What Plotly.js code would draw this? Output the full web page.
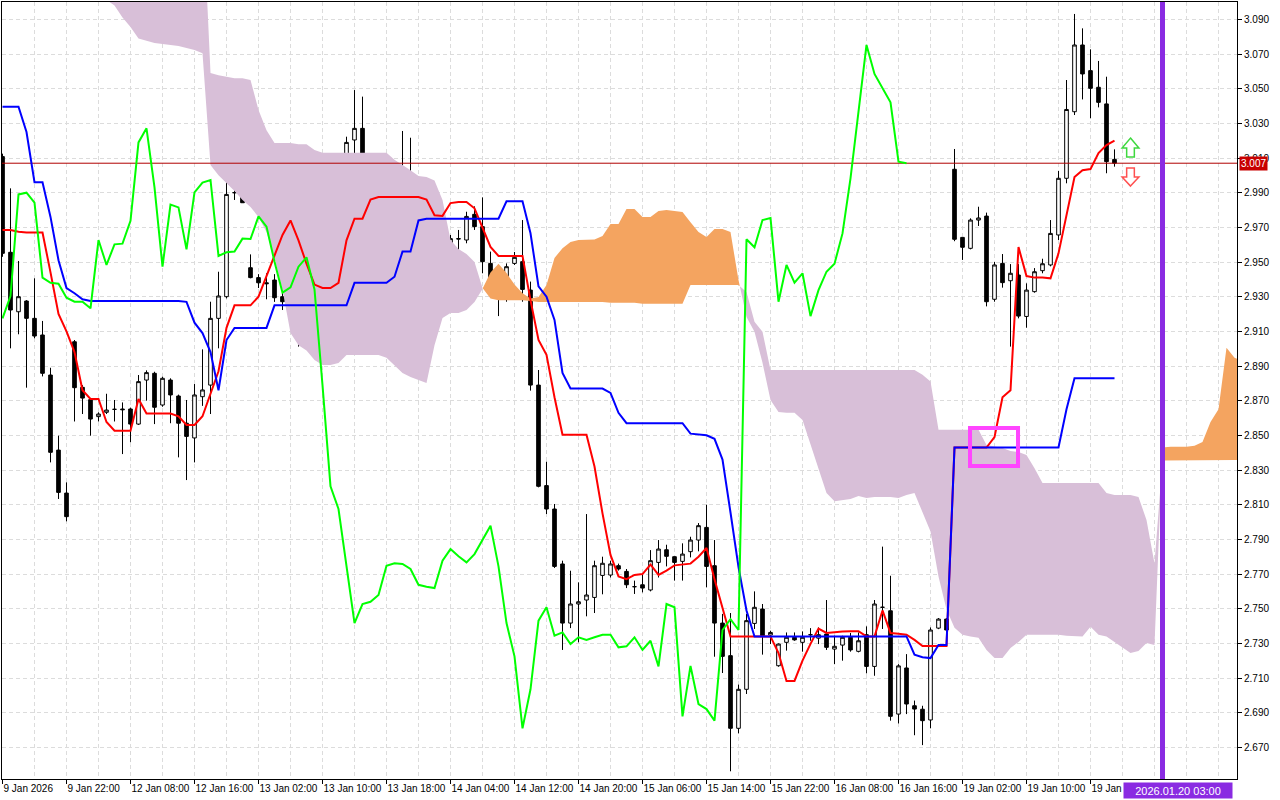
<!DOCTYPE html>
<html><head><meta charset="utf-8">
<script src="https://cdn.plot.ly/plotly-3.0.1.min.js"></script>
<style>html,body{margin:0;padding:0;background:#fff}#chart{width:1280px;height:800px}</style>
</head><body><div id="chart"></div>
<script>
// ---- Candles (hourly bars, index 0..139) ----
const openP = [3.0108,2.9556,2.9213,2.9275,2.9175,2.9079,2.8848,2.8415,2.8167,2.9040,
 2.8777,2.8706,2.8608,2.8633,2.8650,2.8652,2.8652,2.8565,2.8819,2.8858,
 2.8675,2.8819,2.8727,2.8570,2.8485,2.8723,2.8790,2.9175,2.9300,2.9900,
 2.9915,2.9467,2.9410,2.9380,2.9396,2.9300,2.9271,2.9275,2.9233,2.9604,
 2.9473,2.9602,2.9604,2.9738,3.0204,3.0271,2.9944,2.9463,2.9831,2.9831,
 2.9579,2.9913,2.9946,2.9492,2.9517,2.9560,2.9554,2.9635,2.9627,2.9775,
 2.9704,2.9492,2.9323,2.9342,2.9492,2.9502,2.9338,2.8790,2.8210,2.8075,
 2.7758,2.7417,2.7527,2.7550,2.7565,2.7692,2.7694,2.7748,2.7715,2.7627,
 2.7638,2.7608,2.7767,2.7840,2.7800,2.7773,2.7829,2.7896,2.7969,2.7748,
 2.7417,2.7229,2.6810,2.7035,2.7415,2.7498,2.7348,2.7171,2.7306,2.7335,
 2.7306,2.7350,2.7330,2.7354,2.7267,2.7290,2.7335,2.7254,2.7350,2.7167,
 2.7508,2.7488,2.6892,2.7158,2.6940,2.6920,2.6858,2.7388,2.7440,3.0035,
 2.9642,2.9579,2.9742,2.9765,2.9285,2.9492,2.9392,2.9425,2.9186,2.9329,
 2.9450,2.9483,2.9656,2.9983,3.0367,3.0752,3.0604,3.0508,3.0412,3.0092];
const highP = [3.0125,2.9925,2.9506,2.9280,2.9406,2.9160,2.8890,2.8498,2.8229,2.9050,
 2.8790,2.8710,2.8633,2.8740,2.8704,2.8690,2.8660,2.8848,2.8875,2.8867,
 2.8838,2.8829,2.8735,2.8704,2.8796,2.8996,2.9271,2.9444,3.0002,3.0256,
 2.9996,2.9544,2.9430,2.9435,2.9430,2.9323,2.9323,2.9323,2.9665,2.9665,
 2.9635,2.9656,2.9765,3.0223,3.0492,3.0454,2.9944,2.9877,2.9996,2.9973,
 3.0256,3.0217,2.9992,2.9685,2.9635,2.9585,2.9656,2.9685,2.9790,2.9821,
 2.9873,2.9560,2.9387,2.9492,2.9558,2.9742,2.9387,2.8877,2.8348,2.8104,
 2.7777,2.7719,2.7652,2.8046,2.7777,2.7800,2.7777,2.7760,2.7729,2.7662,
 2.7700,2.7838,2.7896,2.7869,2.7802,2.7877,2.7915,2.7994,2.8100,2.7896,
 2.7470,2.7475,2.7062,2.7470,2.7600,2.7527,2.7373,2.7300,2.7363,2.7363,
 2.7369,2.7388,2.7392,2.7550,2.7344,2.7344,2.7360,2.7363,2.7398,2.7550,
 2.7858,2.7690,2.7180,2.7238,2.6970,2.6940,2.7392,2.7446,2.7446,3.0152,
 2.9642,2.9752,2.9819,2.9785,2.9500,2.9546,2.9488,2.9488,2.9377,2.9465,
 2.9519,2.9742,3.0025,3.0550,3.0931,3.0848,3.0727,3.0660,3.0569,3.0150];
const lowP = [2.9530,2.9002,2.9083,2.8775,2.9060,2.8840,2.8344,2.8133,2.8004,2.8580,
 2.8623,2.8498,2.8580,2.8623,2.8580,2.8392,2.8460,2.8560,2.8700,2.8565,
 2.8665,2.8570,2.8373,2.8242,2.8344,2.8670,2.8623,2.9002,2.9290,2.9858,
 2.9842,2.9406,2.9350,2.9285,2.9270,2.9223,2.9223,2.9012,2.9220,2.9338,
 2.9412,2.9540,2.9560,2.9727,3.0108,2.9819,2.9271,2.9280,2.9444,2.9525,
 2.9483,2.9890,2.9930,2.9419,2.9483,2.9540,2.9483,2.9560,2.9608,2.9685,
 2.9435,2.9300,2.9188,2.9271,2.9483,2.9271,2.8758,2.8200,2.8046,2.7735,
 2.7262,2.7388,2.7306,2.7456,2.7475,2.7583,2.7680,2.7720,2.7619,2.7585,
 2.7594,2.7600,2.7680,2.7744,2.7662,2.7662,2.7796,2.7831,2.7623,2.7223,
 2.7129,2.6562,2.6781,2.7008,2.7383,2.7235,2.7296,2.7165,2.7258,2.7315,
 2.7252,2.7315,2.7296,2.7262,2.7180,2.7200,2.7252,2.7248,2.7127,2.7113,
 2.7383,2.6854,2.6838,2.6892,2.6770,2.6713,2.6810,2.7382,2.7370,2.9620,
 2.9512,2.9573,2.9708,2.9244,2.9271,2.9352,2.9012,2.9175,2.9121,2.9323,
 2.9435,2.9475,2.9627,2.9954,3.0348,3.0438,3.0329,3.0392,3.0012,3.0050];
const closeP = [2.9550,2.9223,2.9300,2.9175,2.9073,2.8858,2.8402,2.8171,2.8031,2.8775,
 2.8715,2.8594,2.8623,2.8646,2.8650,2.8648,2.8565,2.8810,2.8862,2.8662,
 2.8829,2.8733,2.8570,2.8494,2.8733,2.8762,2.9175,2.9304,2.9890,2.9900,
 2.9842,2.9410,2.9380,2.9375,2.9294,2.9271,2.9271,2.9233,2.9627,2.9483,
 2.9602,2.9606,2.9738,3.0190,3.0271,2.9931,2.9473,2.9831,2.9815,2.9573,
 2.9902,2.9958,2.9973,2.9535,2.9556,2.9560,2.9635,2.9633,2.9763,2.9704,
 2.9502,2.9323,2.9354,2.9473,2.9527,2.9342,2.8790,2.8206,2.8075,2.7744,
 2.7417,2.7527,2.7540,2.7579,2.7748,2.7762,2.7758,2.7729,2.7638,2.7627,
 2.7619,2.7777,2.7844,2.7802,2.7767,2.7815,2.7896,2.7979,2.7744,2.7417,
 2.7225,2.6810,2.7035,2.7431,2.7508,2.7344,2.7363,2.7296,2.7335,2.7320,
 2.7335,2.7350,2.7350,2.7277,2.7283,2.7335,2.7262,2.7315,2.7167,2.7527,
 2.7508,2.6879,2.7170,2.6950,2.6921,2.6854,2.7377,2.7440,2.7377,2.9631,
 2.9585,2.9742,2.9754,2.9271,2.9483,2.9381,2.9435,2.9188,2.9338,2.9444,
 2.9490,2.9665,2.9983,3.0380,3.0752,3.0585,3.0502,3.0421,3.0079,3.0070];

// ---- Ichimoku lines ----
const tenkan = [2.9685,2.9685,2.9675,2.9670,2.9670,2.9670,2.9440,2.9200,2.9100,2.8980,
 2.8760,2.8710,2.8710,2.8577,2.8527,2.8527,2.8527,2.8710,2.8626,2.8626,
 2.8626,2.8626,2.8610,2.8560,2.8560,2.8610,2.8740,2.8870,2.9120,2.9250,
 2.9250,2.9250,2.9300,2.9415,2.9530,2.9656,2.9740,2.9625,2.9490,2.9370,
 2.9350,2.9350,2.9380,2.9625,2.9750,2.9750,2.9860,2.9875,2.9875,2.9875,
 2.9875,2.9875,2.9875,2.9860,2.9770,2.9766,2.9840,2.9846,2.9846,2.9810,
 2.9696,2.9587,2.9535,2.9535,2.9535,2.9535,2.9280,2.9050,2.8965,2.8720,
 2.8503,2.8503,2.8503,2.8503,2.8320,2.8050,2.7810,2.7686,2.7670,2.7695,
 2.7700,2.7755,2.7695,2.7720,2.7750,2.7755,2.7760,2.7800,2.7850,2.7670,
 2.7510,2.7340,2.7340,2.7340,2.7340,2.7340,2.7340,2.7244,2.7083,2.7083,
 2.7200,2.7297,2.7385,2.7360,2.7365,2.7368,2.7370,2.7370,2.7340,2.7340,
 2.7490,2.7360,2.7355,2.7350,2.7320,2.7285,2.7285,2.7285,2.7285,2.8430,
 2.8430,2.8430,2.8430,2.8430,2.8490,2.8720,2.8760,2.9586,2.9419,2.9410,
 2.9410,2.9406,2.9550,2.9760,2.9990,3.0030,3.0036,3.0128,3.0175,3.0200];
const kijun = [3.0396,3.0396,3.0396,3.0250,2.9960,2.9960,2.9760,2.9510,2.9350,2.9320,
 2.9285,2.9275,2.9275,2.9275,2.9275,2.9275,2.9275,2.9275,2.9275,2.9275,
 2.9275,2.9275,2.9275,2.9270,2.9150,2.9090,2.8980,2.8760,2.9050,2.9120,
 2.9120,2.9120,2.9120,2.9120,2.9250,2.9250,2.9250,2.9250,2.9250,2.9250,
 2.9250,2.9250,2.9250,2.9250,2.9380,2.9380,2.9380,2.9380,2.9380,2.9415,
 2.9560,2.9560,2.9740,2.9750,2.9750,2.9750,2.9750,2.9750,2.9750,2.9750,
 2.9750,2.9750,2.9750,2.9850,2.9850,2.9850,2.9666,2.9360,2.9300,2.9166,
 2.8860,2.8770,2.8770,2.8770,2.8770,2.8770,2.8745,2.8630,2.8570,2.8570,
 2.8570,2.8570,2.8570,2.8570,2.8570,2.8570,2.8510,2.8505,2.8500,2.8480,
 2.8360,2.8055,2.7740,2.7490,2.7340,2.7340,2.7340,2.7340,2.7340,2.7340,
 2.7340,2.7340,2.7340,2.7340,2.7340,2.7340,2.7340,2.7340,2.7340,2.7340,
 2.7340,2.7340,2.7340,2.7340,2.7235,2.7220,2.7215,2.7290,2.7290,2.8430,
 2.8430,2.8430,2.8430,2.8430,2.8430,2.8430,2.8430,2.8430,2.8430,2.8430,
 2.8430,2.8430,2.8430,2.8650,2.8830,2.8830,2.8830,2.8830,2.8830,2.8830];
const chikou = [2.9175,2.9304,2.9890,2.9900,2.9842,2.9410,2.9380,2.9375,2.9294,2.9271,
 2.9271,2.9233,2.9627,2.9483,2.9602,2.9606,2.9738,3.0190,3.0271,2.9931,
 2.9473,2.9831,2.9815,2.9573,2.9902,2.9958,2.9973,2.9535,2.9556,2.9560,
 2.9635,2.9633,2.9763,2.9704,2.9502,2.9323,2.9354,2.9473,2.9527,2.9342,
 2.8790,2.8206,2.8075,2.7744,2.7417,2.7527,2.7540,2.7579,2.7748,2.7762,
 2.7758,2.7729,2.7638,2.7627,2.7619,2.7777,2.7844,2.7802,2.7767,2.7815,
 2.7896,2.7979,2.7744,2.7417,2.7225,2.6810,2.7035,2.7431,2.7508,2.7344,
 2.7363,2.7296,2.7335,2.7320,2.7335,2.7350,2.7350,2.7277,2.7283,2.7335,
 2.7262,2.7315,2.7167,2.7527,2.7508,2.6879,2.7170,2.6950,2.6921,2.6854,
 2.7377,2.7440,2.7377,2.9631,2.9585,2.9742,2.9754,2.9271,2.9483,2.9381,
 2.9435,2.9188,2.9338,2.9444,2.9490,2.9665,2.9983,3.0380,3.0752,3.0585,
 3.0502,3.0421,3.0079,3.0070];
// Senkou spans (already shifted forward; index 0..155)
const spanA = [3.125,3.124,3.123,3.122,3.120,3.118,3.116,3.114,3.112,3.110,
 3.108,3.106,3.104,3.1012,3.0980,3.0910,3.0856,3.0790,3.0775,3.0763,
 3.0757,3.0752,3.0746,3.0734,3.0723,3.0705,3.0060,3.0000,2.9956,2.9910,
 2.9858,2.9817,2.9760,2.9673,2.9523,2.9340,2.9090,2.9020,2.8990,2.8935,
 2.8906,2.8906,2.8918,2.8964,2.8964,2.8964,2.8964,2.8964,2.8947,2.8906,
 2.8860,2.8837,2.8820,2.8802,2.9020,2.9177,2.9206,2.9206,2.9223,2.9270,
 2.9345,2.9440,2.9490,2.9436,2.9370,2.9320,2.9290,2.9298,2.9367,2.9523,
 2.9580,2.9615,2.9627,2.9630,2.9630,2.9650,2.9720,2.9720,2.9806,2.9806,
 2.9760,2.9760,2.9794,2.9800,2.9794,2.9788,2.9730,2.9673,2.9644,2.9690,
 2.9690,2.9673,2.9396,2.9183,2.9098,2.8919,2.8704,2.8635,2.8630,2.8630,
 2.8588,2.8444,2.8300,2.8167,2.8120,2.8127,2.8133,2.8150,2.8138,2.8144,
 2.8144,2.8144,2.8138,2.8156,2.8167,2.8053,2.7946,2.7686,2.7496,2.7390,
 2.7350,2.7340,2.7333,2.7262,2.7215,2.7215,2.7273,2.7308,2.7350,2.7350,
 2.7350,2.7350,2.7350,2.7344,2.7340,2.7340,2.7396,2.7350,2.7340,2.7308,
 2.7273,2.7244,2.7256,2.7302,2.7290,2.8430,2.8434,2.8434,2.8434,2.8440,
 2.8462,2.8577,2.8650,2.9005,2.8948,2.8930];
const spanB = [3.160,3.160,3.160,3.160,3.160,3.160,3.160,3.160,3.160,3.160,
 3.160,3.160,3.160,3.160,3.160,3.160,3.160,3.160,3.160,3.160,
 3.160,3.160,3.160,3.160,3.160,3.160,3.0590,3.0578,3.0567,3.0560,
 3.0560,3.0550,3.0377,3.0260,3.0187,3.0187,3.0187,3.0180,3.0180,3.0146,
 3.0130,3.0130,3.0130,3.0130,3.0130,3.0130,3.0130,3.0130,3.0130,3.0090,
 3.0060,3.0030,2.9996,2.9990,2.9970,2.9858,2.9627,2.9575,2.9546,2.9500,
 2.9350,2.9290,2.9280,2.9280,2.9280,2.9280,2.9275,2.9270,2.9270,2.9270,
 2.9270,2.9270,2.9270,2.9270,2.9270,2.9270,2.9265,2.9265,2.9265,2.9265,
 2.9259,2.9259,2.9259,2.9259,2.9259,2.9259,2.9367,2.9367,2.9367,2.9367,
 2.9367,2.9367,2.9367,2.9327,2.9155,2.9098,2.8877,2.8877,2.8877,2.8877,
 2.8877,2.8877,2.8877,2.8877,2.8877,2.8877,2.8877,2.8877,2.8877,2.8877,
 2.8877,2.8877,2.8877,2.8877,2.8877,2.8850,2.8810,2.8533,2.8533,2.8533,
 2.8533,2.8533,2.8533,2.8445,2.8435,2.8427,2.8410,2.8404,2.8387,2.8310,
 2.8225,2.8225,2.8225,2.8225,2.8225,2.8225,2.8225,2.8225,2.8167,2.8156,
 2.8156,2.8156,2.8144,2.8012,2.7760,2.8355,2.8358,2.8358,2.8358,2.8358,
 2.8358,2.8358,2.8358,2.8358,2.8358,2.8358];

// ---- Axis labels ----
const tickBars = [0,8,16,24,32,40,48,56,64,72,80,88,96,104,112,120,128,136];
const tickLabels = ['9 Jan 2026','9 Jan 22:00','12 Jan 08:00','12 Jan 16:00','13 Jan 02:00','13 Jan 10:00',
 '13 Jan 18:00','14 Jan 04:00','14 Jan 12:00','14 Jan 20:00','15 Jan 06:00','15 Jan 14:00',
 '15 Jan 22:00','16 Jan 08:00','16 Jan 16:00','19 Jan 02:00','19 Jan 10:00','19 Jan 18:00'];
const markerBar = 145;
const markerLabel = '2026.01.20 03:00';
const crossBox = {x0: 120.94, x1: 126.94, y0: 2.8323, y1: 2.8542};
// signal arrows (drawn beside the last bar)
const signalBar = 141;
const upArrow = {top: 3.0215, neck: 3.0158, bottom: 3.0106};
const downArrow = {top: 3.0042, neck: 2.9990, tip: 2.9938};
const headHalf = 1.05, shaftHalf = 0.48;

// ---- styling ----
const THISTLE = '#D8BFD8', SANDY = '#F4A460', GRID = '#dcdcdc';
const bars = closeP.map((_, i) => i);
const futureBars = spanA.map((_, i) => i);
const lastClose = closeP[closeP.length - 1];

function cloudTraces(xs, A, B) {
  const out = [];
  let sx = [], sa = [], sb = [], sign = null;
  const flush = () => {
    if (sx.length > 1) {
      out.push({x: sx.concat(sx.slice().reverse()), y: sa.concat(sb.slice().reverse()),
        type: 'scatter', mode: 'lines', fill: 'toself', fillcolor: sign > 0 ? SANDY : THISTLE,
        line: {width: 0, color: 'rgba(0,0,0,0)'}, hoverinfo: 'skip', showlegend: false});
    }
  };
  for (let i = 0; i < A.length; i++) {
    const d = A[i] - B[i];
    const s = d >= 0 ? 1 : -1;
    if (sign !== null && s !== sign) {
      const dp = A[i-1] - B[i-1];
      const t = dp / (dp - d);
      const xc = xs[i-1] + t * (xs[i] - xs[i-1]);
      const yc = A[i-1] + t * (A[i] - A[i-1]);
      sx.push(xc); sa.push(yc); sb.push(yc);
      flush();
      sx = [xc]; sa = [yc]; sb = [yc];
    }
    sign = s;
    sx.push(xs[i]); sa.push(A[i]); sb.push(B[i]);
  }
  flush();
  return out;
}

const traces = cloudTraces(futureBars, spanA, spanB);
traces.push({x: [-1, 156], y: [lastClose, lastClose], type: 'scatter', mode: 'lines',
  line: {color: '#b00000', width: 1}, hoverinfo: 'skip', showlegend: false});
traces.push({type: 'candlestick', x: bars, open: openP, high: highP, low: lowP, close: closeP,
  increasing: {line: {color: '#000', width: 1}, fillcolor: '#ffffff'},
  decreasing: {line: {color: '#000', width: 1}, fillcolor: '#000000'},
  whiskerwidth: 0, hoverinfo: 'skip', showlegend: false});
traces.push({x: bars, y: tenkan, type: 'scatter', mode: 'lines', line: {color: '#ff0000', width: 2}, hoverinfo: 'skip', showlegend: false});
traces.push({x: bars, y: kijun, type: 'scatter', mode: 'lines', line: {color: '#0000ff', width: 2}, hoverinfo: 'skip', showlegend: false});
traces.push({x: chikou.map((_, i) => i), y: chikou, type: 'scatter', mode: 'lines', line: {color: '#00ff00', width: 2}, hoverinfo: 'skip', showlegend: false});

function arrowPath(cx, yTip, yNeck, yEnd) {
  const p = [[cx, yTip], [cx + headHalf, yNeck], [cx + shaftHalf, yNeck], [cx + shaftHalf, yEnd],
             [cx - shaftHalf, yEnd], [cx - shaftHalf, yNeck], [cx - headHalf, yNeck]];
  return 'M' + p.map(q => q[0] + ',' + q[1]).join(' L') + ' Z';
}

const axisFont = {family: 'Liberation Sans, Arial, sans-serif', size: 10, color: '#000'};
const layout = {
  width: 1280, height: 800,
  margin: {l: 2, r: 43, t: 2, b: 21, pad: 0},
  paper_bgcolor: '#ffffff', plot_bgcolor: '#ffffff',
  showlegend: false, boxgap: 0.35,
  font: axisFont,
  xaxis: {range: [-0.0625, 154.3125], tickmode: 'array', tickvals: tickBars, ticktext: tickLabels,
    tickangle: 0, ticks: 'outside', ticklen: 4, tickcolor: '#000', ticklabelposition: 'outside right',
    tickfont: axisFont, showgrid: true, gridcolor: GRID, griddash: '4px,3px', gridwidth: 1,
    minor: {tickmode: 'linear', tick0: 0, dtick: 4, showgrid: true, gridcolor: GRID, griddash: '4px,3px', ticks: ''},
    showline: true, linecolor: '#000', linewidth: 1, mirror: true, zeroline: false,
    rangeslider: {visible: false}, fixedrange: true, automargin: false},
  yaxis: {side: 'right', range: [2.65175, 3.1000], tick0: 2.67, dtick: 0.02, tickformat: '.3f',
    ticks: 'outside', ticklen: 4, tickcolor: '#000', tickfont: axisFont,
    showgrid: true, gridcolor: GRID, griddash: '4px,3px', gridwidth: 1,
    showline: true, linecolor: '#000', linewidth: 1, mirror: true, zeroline: false,
    fixedrange: true, automargin: false},
  shapes: [
    {type: 'line', xref: 'x', yref: 'paper', x0: markerBar, x1: markerBar, y0: 0, y1: 1,
      line: {color: '#8a2be2', width: 5}, layer: 'above'},
    {type: 'rect', xref: 'x', yref: 'y', x0: crossBox.x0, x1: crossBox.x1, y0: crossBox.y0, y1: crossBox.y1,
      line: {color: '#ff45ff', width: 4}, layer: 'above'},
    {type: 'path', xref: 'x', yref: 'y', path: arrowPath(signalBar, upArrow.top, upArrow.neck, upArrow.bottom),
      fillcolor: '#ffffff', line: {color: '#3fd83f', width: 1.5}, layer: 'above'},
    {type: 'path', xref: 'x', yref: 'y', path: arrowPath(signalBar, downArrow.tip, downArrow.neck, downArrow.top),
      fillcolor: '#ffffff', line: {color: '#ff5050', width: 1.5}, layer: 'above'}
  ],
  annotations: [
    {xref: 'paper', x: 1, xanchor: 'left', xshift: 2, yref: 'y', y: lastClose, yanchor: 'middle',
      text: lastClose.toFixed(3), showarrow: false, bgcolor: '#c80000', borderpad: 1,
      font: {family: axisFont.family, size: 10, color: '#ffffff'}},
    {xref: 'x', x: markerBar, xshift: 15.5, yref: 'paper', y: 0, yanchor: 'top', yshift: -3,
      text: markerLabel, showarrow: false, bgcolor: '#8a2be2', borderpad: 1, width: 106, height: 13,
      font: {family: axisFont.family, size: 11, color: '#ffffff'}}
  ]
};

Plotly.newPlot('chart', traces, layout, {displayModeBar: false, staticPlot: true});
</script>
</body></html>
